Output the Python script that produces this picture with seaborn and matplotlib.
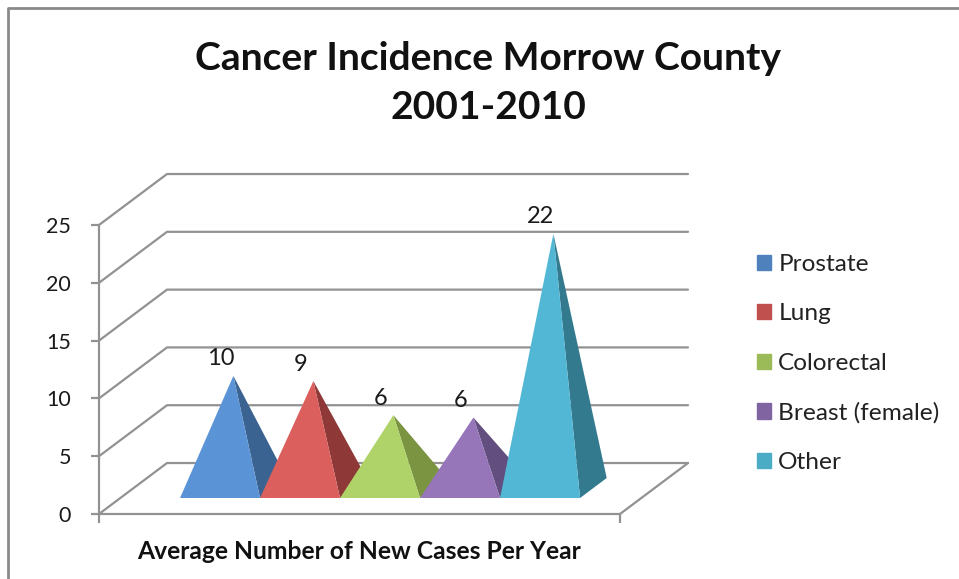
import pandas as pd
import seaborn as sns
import matplotlib.pyplot as plt
from matplotlib.lines import Line2D
from matplotlib.patches import Polygon

# values, labels are these rounded
sites = ["Prostate", "Lung", "Colorectal", "Breast (female)", "Other"]
cases = [9.7, 9.25, 6.3, 6.1, 22]
ticks = [0, 5, 10, 15, 20, 25]

legend_colors = ["#4F81BD", "#C0504D", "#9BBB59", "#8064A2", "#4BACC6"]
front_colors = ["#5B93D7", "#DB5F5D", "#AFD368", "#9675B9", "#52B7D5"]
side_colors = ["#3B6391", "#8E3937", "#7B9442", "#634E80", "#347A8F"]
grid_color = "#929292"

# depth of the fake 3d box, in data units of the front plane
depth_x = 0.85
depth_y = 4.41
bar_front = 0.314
bar_back = 0.706

df = pd.DataFrame({"site": sites, "cases": cases})

sns.set_style("white")
plt.rcParams["font.family"] = ["Lato", "DejaVu Sans"]

fig = plt.figure(figsize=(9.59, 5.79), dpi=100)
ax = fig.add_axes([99 / 959, 1 - 514 / 579, 521 / 959, 289 / 579])

sns.barplot(data=df, x="site", y="cases", hue="site", palette=legend_colors,
            width=1, saturation=1, legend=False, ax=ax)
ax.set_xlim(-1.246, 5.266)
ax.set_ylim(0, 25)


def project(x, y, d):
    return x + d * depth_x, y + d * depth_y


# walls and floor
x0, x1 = ax.get_xlim()
for t in ticks:
    xs, ys = zip(project(x0, t, 0), project(x0, t, 1), project(x1, t, 1))
    ax.plot(xs, ys, color=grid_color, lw=1.6, clip_on=False, zorder=1)
xs, ys = zip(project(x1, 0, 0), project(x1, 0, 1))
ax.plot(xs, ys, color=grid_color, lw=1.6, clip_on=False, zorder=1)

# turn each bar into a pyramid
handles = []
for i, bar in enumerate(list(ax.patches)):
    left = bar.get_x()
    right = left + bar.get_width()
    mid = (left + right) / 2
    height = bar.get_height()
    bar.set_visible(False)

    apex = project(mid, height, (bar_front + bar_back) / 2)
    front_l = project(left, 0, bar_front)
    front_r = project(right, 0, bar_front)
    back_r = project(right, 0, bar_back)
    z = 3 + i
    ax.add_patch(Polygon([apex, front_r, back_r], color=side_colors[i], lw=0,
                         clip_on=False, zorder=z))
    ax.add_patch(Polygon([apex, front_l, front_r], color=front_colors[i], lw=0,
                         clip_on=False, zorder=z))
    ax.annotate(f"{height:.0f}", xy=apex, xytext=(-13, 17), textcoords="offset pixels",
                ha="center", va="center", fontsize=17, color="#1a1a1a", zorder=10)
    handles.append(Polygon([(0, 0), (1, 0), (1, 1)], color=legend_colors[i], label=sites[i]))

# axis styling
sns.despine(ax=ax, top=True, right=True)
for side in ["left", "bottom"]:
    ax.spines[side].set_color(grid_color)
    ax.spines[side].set_linewidth(1.6)
    ax.spines[side].set_zorder(2)
ax.set_yticks(ticks)
ax.set_xticks([x0, x1])
ax.set_xticklabels(["", ""])
ax.tick_params(axis="y", length=6, width=1.6, color=grid_color, left=True,
               labelsize=15.5, labelcolor="#1a1a1a", pad=14)
ax.tick_params(axis="x", length=6.5, width=1.6, color=grid_color, bottom=True)
ax.set_xlabel("Average Number of New Cases Per Year", fontsize=17.7, fontweight="bold",
              color="#111111", labelpad=8.5)
ax.set_ylabel("")

fig.legend(handles=handles, loc="center left", bbox_to_anchor=(735 / 959, 1 - 363.5 / 579),
           frameon=False, fontsize=17.6, handlelength=0.57, handleheight=0.57,
           handletextpad=0.3, labelspacing=1.16, labelcolor="#222222")

fig.suptitle("Cancer Incidence Morrow County\n2001-2010", x=488 / 959, y=1 - 83 / 579,
             va="center", fontsize=28.1, fontweight="bold", color="#111111", linespacing=1.45)

# outer chart border, only top and left are in the crop
border = Line2D([8 / 959, 8 / 959, 1], [0, 1 - 8 / 579, 1 - 8 / 579], color="#8A8A8A", lw=2,
                transform=fig.transFigure)
fig.add_artist(border)

fig.savefig("out.png", dpi=100)
